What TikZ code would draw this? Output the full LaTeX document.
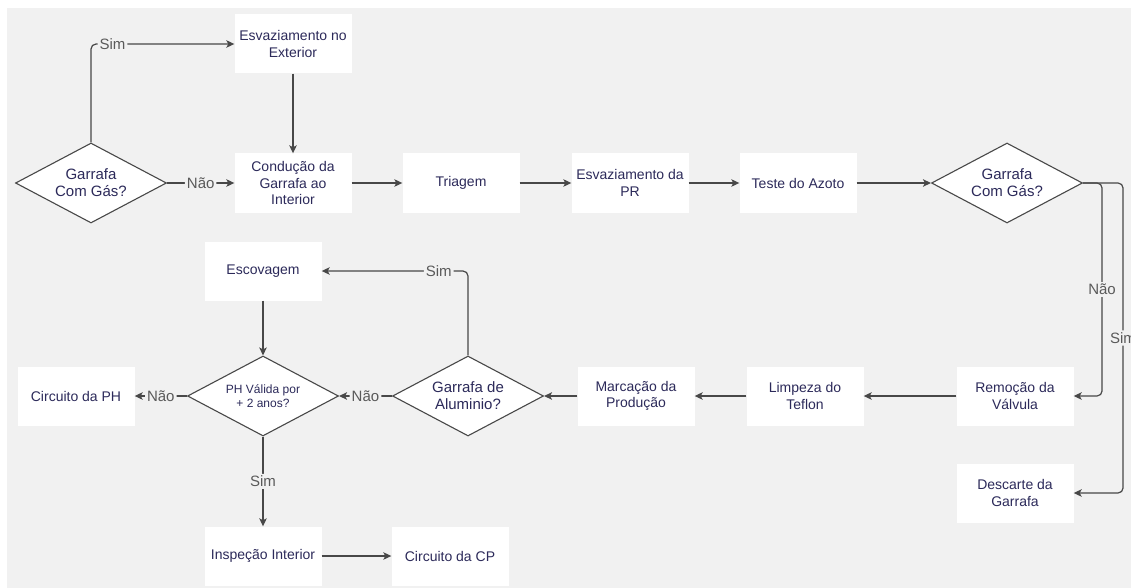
\documentclass[tikz,border=0pt]{standalone}
\usepackage{fontspec}
\setmainfont{Liberation Sans}
\usetikzlibrary{shapes.geometric,arrows.meta}
\definecolor{bg}{HTML}{F1F1F1}
\definecolor{txt}{HTML}{2C2A5A}
\definecolor{ln}{HTML}{484848}
\definecolor{lbl}{HTML}{5A5A5A}
\begin{document}
\begin{tikzpicture}[x=1pt,y=-1pt,
  box/.style={fill=white, minimum width=117pt, minimum height=59pt, inner sep=0pt,
    align=center, font=\fontsize{14}{16.5}\selectfont, text=txt},
  dec/.style={diamond, draw=ln, line width=1.1pt, fill=white, aspect=1.9, inner sep=0pt,
    minimum width=151pt, minimum height=80pt, align=center,
    font=\fontsize{15}{17}\selectfont, text=txt},
  arr/.style={draw=ln, line width=1.2pt, rounded corners=5pt,
    -{Stealth[length=8pt,width=7.5pt,inset=2pt]}},
  lab/.style={fill=bg, text=lbl, inner sep=2pt, font=\fontsize{15}{17}\selectfont}]
\useasboundingbox (0,0) rectangle (1131,588);
\fill[white] (0,0) rectangle (1131,588);
\fill[bg] (7,8) rectangle (1131,588);

% top row
\node[dec] (d1) at (91,183) {Garrafa\\Com Gás?};
\node[box] (ext) at (293,44) {Esvaziamento no\\Exterior};
\node[box] (cond) at (293,183) {Condução da\\Garrafa ao\\Interior};
\node[box] (tri) at (461,183) {Triagem};
\node[box] (epr) at (630,183) {Esvaziamento da\\PR};
\node[box] (azo) at (798,183) {Teste do Azoto};
\node[dec] (d2) at (1007,183) {Garrafa\\Com Gás?};

% right column
\node[box] (rem) at (1015,396) {Remoção da\\Válvula};
\node[box] (desc) at (1015,493) {Descarte da\\Garrafa};

% middle row
\node[box] (limp) at (805,396) {Limpeza do\\Teflon};
\node[box] (marc) at (636,396) {Marcação da\\Produção};
\node[dec] (d3) at (468,396) {Garrafa de\\Aluminio?};
\node[box] (esc) at (263,271) {Escovagem};
\node[dec, font=\fontsize{12}{14}\selectfont] (d4) at (263,396) {PH Válida por\\+ 2 anos?};
\node[box] (cph) at (76,396) {Circuito da PH};

% bottom row
\node[box] (insp) at (263,556) {Inspeção Interior};
\node[box] (ccp) at (450,556) {Circuito da CP};

% connectors
\draw[arr] (d1.north) |- node[lab, pos=0.575] {Sim} (ext.west);
\draw[arr] (d1.east) -- node[lab] {Não} (cond.west);
\draw[arr] (ext.south) -- (cond.north);
\draw[arr] (cond.east) -- (tri.west);
\draw[arr] (tri.east) -- (epr.west);
\draw[arr] (epr.east) -- (azo.west);
\draw[arr] (azo.east) -- (d2.west);
\draw[arr] (d2.east) -- ++(19,0) |- node[lab, pos=0.25] {Não} (rem.east);
\draw[arr] (d2.east) -- ++(40,0) |- node[lab, pos=0.25] {Sim} (desc.east);
\draw[arr] (rem.west) -- (limp.east);
\draw[arr] (limp.west) -- (marc.east);
\draw[arr] (marc.west) -- (d3.east);
\draw[arr] (d3.north) |- node[lab, pos=0.6] {Sim} (esc.east);
\draw[arr] (d3.west) -- node[lab] {Não} (d4.east);
\draw[arr] (esc.south) -- (d4.north);
\draw[arr] (d4.west) -- node[lab] {Não} (cph.east);
\draw[arr] (d4.south) -- node[lab] {Sim} (insp.north);
\draw[arr] (insp.east) -- (ccp.west);
\end{tikzpicture}
\end{document}
